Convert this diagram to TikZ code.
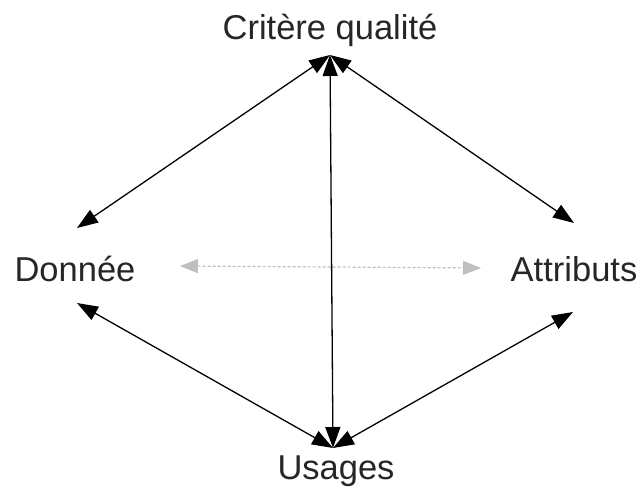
\documentclass[tikz,border=0pt]{standalone}
\usepackage{fontspec}
\setmainfont{Liberation Sans}
\usetikzlibrary{arrows.meta}

\begin{document}
\begin{tikzpicture}[x=1pt,y=-1pt,
	lbl/.style={font=\fontsize{34.5}{40}\selectfont, text=black!85},
	lien/.style={{Triangle[length=21pt,width=15pt]}-{Triangle[length=21pt,width=15pt]}, line width=1.3pt},
	faible/.style={{Triangle[length=18pt,width=14pt]}-{Triangle[length=18pt,width=14pt]}, gray!50, line width=1.2pt, dash pattern=on 3pt off 2pt}]
	\useasboundingbox (0,0) rectangle (640,495);
	\node (crit) [lbl] at (330,30){Critère qualité};
	\node (don) [lbl] at (75,269){Donnée};
	\node (attr) [lbl] at (574,269){Attributs};
	\node (usa) [lbl] at (336,471){Usages};
	
	\coordinate (critB) at (330,55);
	\coordinate (usaH) at (333,448);
	\coordinate (donH) at (77,228);
	\coordinate (donB) at (77,303);
	\coordinate (attrH) at (574,223);
	\coordinate (attrB) at (573,312);
	\coordinate (donD) at (180,266);
	\coordinate (attrG) at (481,268);
	
	\draw[faible] (donD)--(attrG);
	\draw[lien] (donH)--(critB);
	\draw[lien] (attrH)--(critB);
	\draw[lien] (usaH)--(critB);
	\draw[lien] (donB)--(usaH);
	\draw[lien] (attrB)--(usaH);
\end{tikzpicture}
\end{document}
